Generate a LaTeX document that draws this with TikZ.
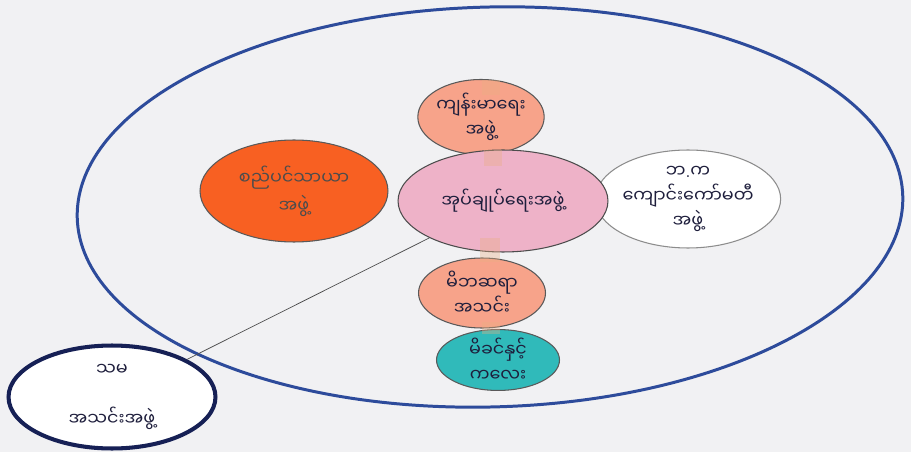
\documentclass[tikz,border=0pt]{standalone}
\usepackage{fontspec}
\newfontfamily\mmfont[Script=Myanmar]{Noto Sans Myanmar UI}
\usetikzlibrary{shapes.geometric}
\definecolor{paper_colour}{RGB}{241, 241, 243}
\definecolor{ring_colour}{RGB}{45, 75, 155}
\definecolor{smallring_colour}{RGB}{22, 32, 85}
\definecolor{orange_colour}{RGB}{248, 96, 34}
\definecolor{pink_colour}{RGB}{238, 178, 200}
\definecolor{peach_colour}{RGB}{247, 163, 138}
\definecolor{teal_colour}{RGB}{48, 186, 186}
\definecolor{tape_colour}{RGB}{235, 175, 130}
\definecolor{ink_colour}{RGB}{30, 30, 60}

\begin{document}
\begin{tikzpicture}[
    x=0.02cm, y=-0.02cm,
    every node/.style={font=\mmfont\fontsize{10}{14}\selectfont, text=ink_colour},
    blob/.style={ellipse, draw=black!65, line width=0.6pt,
                 align=center, inner sep=0pt},
    tape/.style={fill=tape_colour, opacity=0.35},
    ring/.style={draw=ring_colour, line width=1.7pt},
    link/.style={draw=gray!60!black, line width=0.4pt},
]
\useasboundingbox[fill=paper_colour] (0,0) rectangle (911,452);

% outer boundary
\draw[ring, rotate around={1.5:(490,207)}] (490,207) ellipse [x radius=8.26cm, y radius=4cm];

% groups
\node[blob, fill=peach_colour, minimum width=2.36cm, minimum height=1.5cm]
    (health) at (481,117) {ကျန်းမာရေး\\အဖွဲ့};
\node[blob, fill=orange_colour, minimum width=3.76cm, minimum height=2.04cm]
    (municipal) at (294,191) {\textcolor{black!70}{စည်ပင်သာယာ}\\[2pt]\textcolor{black!70}{အဖွဲ့}};
\node[blob, fill=white, draw=black!45, minimum width=3.0cm, minimum height=1.96cm]
    (school) at (688,199) {ဘ{\normalfont .}က\\ကျောင်းကော်မတီ\\အဖွဲ့};
\node[blob, fill=peach_colour, minimum width=2.54cm, minimum height=1.4cm]
    (pta) at (482,293) {မိဘဆရာ\\အသင်း};
\node[blob, fill=teal_colour, minimum width=2.46cm, minimum height=1.2cm]
    (mother) at (498,360) {မိခင်နှင့်\\ကလေး};
\node[blob, fill=pink_colour, draw=black!70, minimum width=4.2cm, minimum height=2.04cm]
    (admin) at (503,201) {အုပ်ချုပ်ရေးအဖွဲ့};

% tape
\fill[tape] (482,80) rectangle (500,95);
\fill[tape] (484,150) rectangle (502,166);
\fill[tape] (480,238) rectangle (500,262);
\fill[tape] (482,322) rectangle (500,334);

% outside group
\node[ellipse, draw=smallring_colour, line width=2.3pt, fill=white,
      minimum width=4.14cm, minimum height=2.06cm, align=center, inner sep=0pt]
    (coop) at (112,397) {သမ\\[14pt]အသင်းအဖွဲ့};

\draw[link] (coop) -- (admin);
\end{tikzpicture}
\end{document}
